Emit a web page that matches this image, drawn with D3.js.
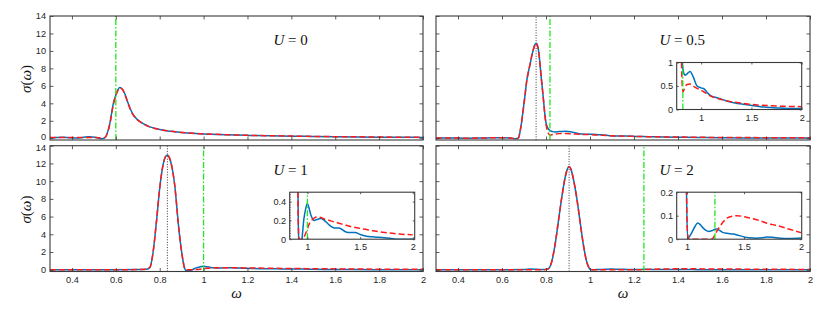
<!DOCTYPE html>
<html>
<head>
<meta charset="utf-8">
<script src="https://cdn.jsdelivr.net/npm/d3@7"></script>
<style>
body { margin: 0; background: #fff; }
.tick text { font-family: "Liberation Sans", Arial, sans-serif; font-size: 9.2px; fill: #262626; }
.tick line { stroke: #333; stroke-width: 0.8; }
.math { font-family: "Liberation Serif", "Times New Roman", serif; fill: #111; }
</style>
</head>
<body>
<div id="chart"></div>
<script>
/* data */
var omegaU0  = [0.30,0.33,0.36,0.39,0.42,0.45,0.48,0.51,0.535,0.55,0.565,0.575,0.588,0.60,0.61,0.618,0.63,0.64,0.652,0.664,0.676,0.69,0.71,0.73,0.755,0.78,0.80,0.85,0.90,0.95,1.0,1.1,1.2,1.3,1.4,1.5,1.6,1.7,1.8,1.9,2.0];
var solidU0  = [0.05,0.10,0.12,0.05,0.02,0.10,0.18,0.08,-0.05,0.05,0.90,2.0,3.9,4.95,5.55,5.8,5.6,5.15,4.3,3.5,2.85,2.35,1.9,1.6,1.3,1.12,1.0,0.8,0.66,0.56,0.5,0.4,0.33,0.28,0.24,0.2,0.17,0.14,0.12,0.11,0.1];
var dashedU0 = [0.10,0.10,0.08,0.08,0.10,0.10,0.10,0.08,0.03,0.10,0.85,1.9,3.8,4.9,5.5,5.75,5.6,5.1,4.25,3.45,2.8,2.3,1.9,1.58,1.3,1.12,1.0,0.8,0.66,0.56,0.5,0.41,0.34,0.29,0.25,0.21,0.18,0.16,0.14,0.12,0.11];

var omegaU05  = [0.30,0.35,0.40,0.45,0.50,0.55,0.60,0.64,0.66,0.674,0.682,0.69,0.697,0.705,0.712,0.72,0.727,0.735,0.743,0.75,0.755,0.76,0.767,0.773,0.779,0.785,0.79,0.795,0.80,0.805,0.81,0.815,0.82,0.83,0.84,0.86,0.89,0.92,0.96,1.0,1.03,1.06,1.09,1.14,1.19,1.24,1.29,1.39,1.49,1.59,1.69,1.79,1.89,2.0];
var solidU05  = [0.02,0.03,0.02,0.01,0.03,0.05,0.06,0.02,-0.05,0.0,0.75,2.0,3.4,5.0,6.5,7.6,8.4,9.4,10.2,10.75,10.88,10.7,9.9,8.4,6.8,5.3,4.0,2.7,1.8,1.35,1.1,0.95,0.85,0.76,0.73,0.76,0.81,0.7,0.5,0.46,0.44,0.36,0.3,0.26,0.23,0.19,0.16,0.12,0.09,0.06,0.04,0.03,0.02,0.02];
var dashedU05 = [0.02,0.03,0.02,0.01,0.03,0.05,0.06,0.02,-0.05,0.0,0.75,2.0,3.4,5.0,6.5,7.6,8.4,9.4,10.2,10.75,10.88,10.7,9.9,8.4,6.8,5.3,4.0,2.6,1.6,1.0,0.6,0.42,0.38,0.42,0.47,0.53,0.54,0.5,0.45,0.41,0.37,0.33,0.29,0.25,0.22,0.19,0.17,0.14,0.11,0.09,0.08,0.07,0.065,0.06];

var omegaU1  = [0.30,0.40,0.50,0.60,0.70,0.74,0.755,0.77,0.785,0.80,0.815,0.825,0.835,0.845,0.854,0.87,0.884,0.90,0.907,0.914,0.922,0.935,0.95,0.966,0.983,1.0,1.016,1.032,1.048,1.064,1.09,1.128,1.16,1.19,1.22,1.255,1.30,1.36,1.41,1.455,1.50,1.55,1.62,1.68,1.78,1.87,2.0];
var solidU1  = [0.0,0.0,0.0,0.0,0.02,0.05,0.25,2.0,5.4,9.2,11.8,12.7,12.95,12.6,11.8,9.2,5.4,2.0,0.9,0.15,-0.12,-0.1,0.02,0.21,0.32,0.38,0.33,0.26,0.22,0.2,0.21,0.22,0.2,0.17,0.14,0.12,0.12,0.08,0.07,0.07,0.05,0.035,0.025,0.02,0.01,0.0,0.0];
var dashedU1 = [0.0,0.0,0.0,0.0,0.02,0.05,0.25,2.0,5.4,9.2,11.8,12.7,12.95,12.6,11.8,9.2,5.4,2.0,0.9,0.12,0.0,0.0,0.0,0.02,0.06,0.11,0.16,0.19,0.21,0.225,0.235,0.23,0.215,0.205,0.195,0.185,0.17,0.15,0.135,0.125,0.115,0.105,0.09,0.08,0.065,0.055,0.046];

var omegaU2  = [0.30,0.40,0.50,0.60,0.70,0.73,0.76,0.79,0.81,0.826,0.841,0.856,0.871,0.886,0.896,0.905,0.914,0.924,0.94,0.955,0.97,0.985,0.995,1.006,1.02,1.04,1.07,1.094,1.12,1.143,1.165,1.187,1.217,1.245,1.257,1.29,1.32,1.35,1.41,1.44,1.49,1.55,1.61,1.66,1.70,1.75,1.82,1.90,2.0];
var solidU2  = [0.0,0.0,0.0,0.0,0.02,0.08,0.05,0.02,0.1,0.9,2.8,5.4,8.06,10.3,11.3,11.63,11.3,10.3,8.06,5.4,2.8,0.9,0.25,0.0,0.01,0.026,0.054,0.069,0.06,0.047,0.038,0.033,0.036,0.042,0.043,0.036,0.028,0.025,0.022,0.018,0.011,0.006,0.004,0.006,0.009,0.008,0.004,0.003,0.005];
var dashedU2 = [0.0,0.0,0.0,0.0,0.0,0.0,0.0,0.0,0.1,0.9,2.8,5.4,8.06,10.3,11.3,11.63,11.3,10.3,8.06,5.4,2.8,0.9,0.25,0.02,0.0,0.0,0.0,0.0,0.0,0.0,0.0,0.0,0.0,0.018,0.03,0.055,0.075,0.09,0.099,0.1,0.097,0.09,0.083,0.075,0.068,0.062,0.054,0.042,0.028];

var uLabels     = ["0", "0.5", "1", "2"];
var greenLines  = [0.6, 0.818, 1.0, 1.245];
var dottedLines = [null, 0.755, 0.835, 0.905];

var xTicks = [0.4,0.6,0.8,1,1.2,1.4,1.6,1.8,2];
var yTicks = [0,2,4,6,8,10,12,14];

/* insets: panel index -> zoom window */
var insetPanels  = [1, 2, 3];
var insetXDomain = [[0.757, 2.0], [0.832, 2.018], [0.91, 2.006]];
var insetYDomain = [[0, 1], [0, 0.5], [0, 0.2]];
var insetYTicks  = [[0, 0.5, 1], [0, 0.2, 0.4], [0, 0.1, 0.2]];
var insetXTicks  = [1, 1.5, 2];

/* layout */
var W = 830, H = 312;
var cols = [[50, 423], [436, 810]];
var rows = [[16, 140], [145.7, 271.5]];

var BLUE = "#0072BD", RED = "#ff1a1a", GREEN = "#1ee81e";

var svg = d3.select("#chart").append("svg")
	.attr("width", W).attr("height", H)
	.style("display", "block");

var defs = svg.append("defs");

function zip(xs, ys){
	return xs.map(function(v, i){ return [v, ys[i]]; });
}

var panels = [
	{solid: zip(omegaU0, solidU0),   dashed: zip(omegaU0, dashedU0)},
	{solid: zip(omegaU05, solidU05), dashed: zip(omegaU05, dashedU05)},
	{solid: zip(omegaU1, solidU1),   dashed: zip(omegaU1, dashedU1)},
	{solid: zip(omegaU2, solidU2),   dashed: zip(omegaU2, dashedU2)}
];

function fmt(v){ return String(v); }

function drawCurves(g, p, i, x, y, clipId){
	var line = d3.line()
		.x(function(d){ return x(d[0]); })
		.y(function(d){ return y(d[1]); })
		.curve(d3.curveMonotoneX);
	var c = g.append("g").attr("clip-path", "url(#" + clipId + ")");
	var yr = y.range();
	if (dottedLines[i] !== null) {
		c.append("line")
			.attr("x1", x(dottedLines[i])).attr("x2", x(dottedLines[i]))
			.attr("y1", yr[0]).attr("y2", yr[1])
			.attr("stroke", "#222").attr("stroke-width", 0.9)
			.attr("stroke-dasharray", "1,1.6");
	}
	c.append("path").datum(p.solid)
		.attr("d", line).attr("fill", "none")
		.attr("stroke", BLUE).attr("stroke-width", 1.5);
	c.append("path").datum(p.dashed)
		.attr("d", line).attr("fill", "none")
		.attr("stroke", RED).attr("stroke-width", 1.5)
		.attr("stroke-dasharray", "6,3");
	c.append("line")
		.attr("x1", x(greenLines[i])).attr("x2", x(greenLines[i]))
		.attr("y1", yr[0]).attr("y2", yr[1])
		.attr("stroke", GREEN).attr("stroke-width", 1.3)
		.attr("stroke-dasharray", "6,2,1.5,2");
}

function frame(g, x, y, xt, yt, tickLen, showX, showY, pad){
	var xr = x.range(), yr = y.range();
	g.append("g").attr("transform", "translate(0," + yr[0] + ")")
		.call(d3.axisBottom(x).tickValues(xt).tickSize(-tickLen).tickPadding(pad)
			.tickFormat(showX ? fmt : ""));
	g.append("g").attr("transform", "translate(0," + yr[1] + ")")
		.call(d3.axisTop(x).tickValues(xt).tickSize(-tickLen).tickFormat(""));
	var left = g.append("g").attr("class", "y-left").attr("transform", "translate(" + xr[0] + ",0)")
		.call(d3.axisLeft(y).tickValues(yt).tickSize(-tickLen).tickPadding(pad - 1)
			.tickFormat(showY ? fmt : ""));
	g.append("g").attr("transform", "translate(" + xr[1] + ",0)")
		.call(d3.axisRight(y).tickValues(yt).tickSize(-tickLen).tickFormat(""));
	g.selectAll(".domain").remove();
	g.selectAll(".tick text").attr("font-family", null).attr("font-size", null);
	g.append("rect")
		.attr("x", xr[0]).attr("y", yr[1])
		.attr("width", xr[1] - xr[0]).attr("height", yr[0] - yr[1])
		.attr("fill", "none").attr("stroke", "#3a3a3a").attr("stroke-width", 1.1);
	return left;
}

panels.forEach(function(p, i){
	var col = i % 2, row = Math.floor(i / 2);
	var x = d3.scaleLinear().domain([0.3, 2]).range(cols[col]);
	var y = d3.scaleLinear().domain([-0.2, 14]).range([rows[row][1], rows[row][0]]);
	var g = svg.append("g").attr("class", "panel");

	var clipId = "clip-main-" + i;
	defs.append("clipPath").attr("id", clipId).append("rect")
		.attr("x", cols[col][0]).attr("y", rows[row][0])
		.attr("width", cols[col][1] - cols[col][0])
		.attr("height", rows[row][1] - rows[row][0]);

	drawCurves(g, p, i, x, y, clipId);
	var left = frame(g, x, y, xTicks, yTicks, 3.5, row === 1, col === 0, 5);
	// the stacked 0 / 14 labels sit very close, pull them apart a little
	left.selectAll(".tick text")
		.filter(function(d){ return (row === 0 && d === 0) || (row === 1 && d === 14); })
		.attr("dy", row === 0 ? "0.1em" : "0.5em");

	/* U label */
	var t = g.append("text").attr("class", "math")
		.attr("x", cols[col][0] + 223.5)
		.attr("y", rows[row][0] + 29)
		.attr("font-size", 15);
	t.append("tspan").attr("font-style", "italic").text("U");
	t.append("tspan").text(" = " + uLabels[i]);

	/* inset */
	var k = insetPanels.indexOf(i);
	if (k >= 0) {
		var ix0 = cols[col][1] - 8.3, iy0 = rows[row][0] + 46.5;
		var ix = d3.scaleLinear().domain(insetXDomain[k]).range([ix0 - 125, ix0]);
		var iy = d3.scaleLinear().domain(insetYDomain[k]).range([iy0 + 47, iy0]);
		var ig = g.append("g").attr("class", "inset");
		ig.append("rect")
			.attr("x", ix0 - 125).attr("y", iy0)
			.attr("width", 125).attr("height", 47)
			.attr("fill", "#fff");
		var iclip = "clip-inset-" + i;
		defs.append("clipPath").attr("id", iclip).append("rect")
			.attr("x", ix0 - 125).attr("y", iy0)
			.attr("width", 125).attr("height", 47);
		drawCurves(ig, p, i, ix, iy, iclip);
		frame(ig, ix, iy, insetXTicks, insetYTicks[k], 2, true, true, 4.5);
	}
});

/* axis titles */
[0, 1].forEach(function(r){
	var cy = (rows[r][0] + rows[r][1]) / 2 + 1;
	var t = svg.append("text").attr("class", "math")
		.attr("transform", "translate(31," + cy + ") rotate(-90)")
		.attr("text-anchor", "middle")
		.attr("font-size", 15);
	t.append("tspan").attr("font-style", "italic").text("σ");
	t.append("tspan").text("(");
	t.append("tspan").attr("font-style", "italic").text("ω");
	t.append("tspan").text(")");
});
[0, 1].forEach(function(c){
	svg.append("text").attr("class", "math")
		.attr("x", (cols[c][0] + cols[c][1]) / 2)
		.attr("y", 298)
		.attr("text-anchor", "middle")
		.attr("font-size", 15)
		.attr("font-style", "italic")
		.text("ω");
});
</script>
</body>
</html>
